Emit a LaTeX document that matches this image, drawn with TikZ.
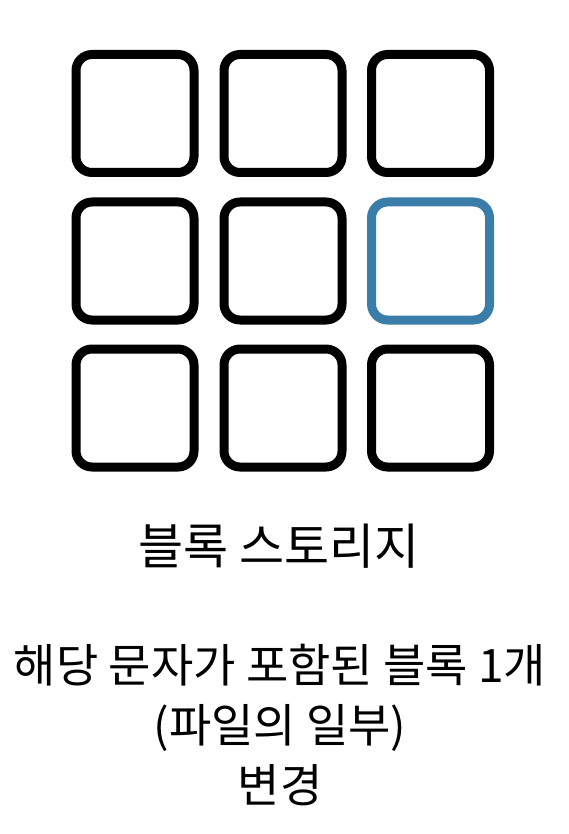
\documentclass[tikz,border=0pt]{standalone}
\usepackage{fontspec}
\newfontfamily\kr{Noto Sans CJK KR}
\definecolor{hlblue}{RGB}{58,125,168}
\begin{document}
\begin{tikzpicture}[x=1pt,y=-1pt,
  blk/.style={draw=black,line width=9pt,rounded corners=16pt,minimum width=118pt,minimum height=118pt,inner sep=0pt},
  lbl/.style={font=\kr\fontsize{46}{60}\selectfont,inner sep=0pt,align=center,anchor=base}]
\useasboundingbox (0,0) rectangle (568,834);
\node[blk] (b11) at (135,113.5) {};
\node[blk] (b12) at (283,113.5) {};
\node[blk] (b13) at (430.5,113.5) {};
\node[blk] (b21) at (135,261) {};
\node[blk] (b22) at (283,261) {};
\node[blk,draw=hlblue] (b23) at (430.5,261) {};
\node[blk] (b31) at (135,408) {};
\node[blk] (b32) at (283,408) {};
\node[blk] (b33) at (430.5,408) {};
\node[lbl,font=\kr\fontsize{49}{60}\selectfont] (title) at (279,564) {블록 스토리지};
\node[lbl] (desc) at (280,802) {해당 문자가 포함된 블록 1개\\(파일의 일부)\\변경};
\end{tikzpicture}
\end{document}
